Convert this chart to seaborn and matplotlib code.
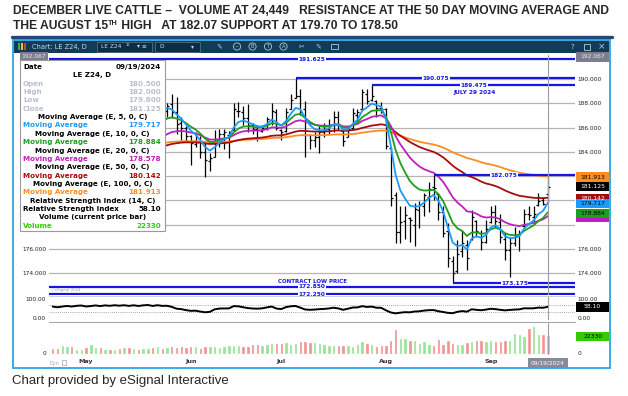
import numpy as np
import pandas as pd
import seaborn as sns
import matplotlib.pyplot as plt
from matplotlib.patches import Rectangle, Circle
from matplotlib.ticker import FormatStrFormatter

# ---- LE Z24 daily bars ----
holidays = ["2024-05-27", "2024-06-19", "2024-07-04", "2024-09-02"]
dates = pd.bdate_range("2024-04-22", "2024-09-19", freq="C", holidays=holidays)

opens = np.array([
    184.9, 184.6, 184.2, 184.9, 185.3, 185.0, 185.6, 185.9, 185.4, 185.8,
    186.3, 186.0, 186.6, 186.4, 186.9, 186.7, 187.1, 186.8, 187.3, 187.0,
    187.5, 187.8, 187.4, 188.0, 187.4, 187.9, 187.3, 186.4, 186.0, 185.3,
    184.6, 184.9, 184.0, 183.2, 183.6, 184.8, 185.5, 185.4, 185.8, 187.4,
    187.3, 186.8, 186.2, 185.9, 185.7, 186.0, 186.6, 187.3, 185.8, 185.7,
    187.5, 188.4, 188.6, 187.5, 185.4, 185.0, 185.2, 185.6, 185.9, 186.2,
    186.9, 185.7, 185.2, 186.0, 187.0, 187.5, 188.8, 188.3, 188.2, 187.6,
    187.5, 184.3, 180.4, 177.4, 178.3, 178.5, 178.0, 179.2, 179.5, 180.3,
    181.1, 180.5, 179.0, 177.5, 175.0, 174.2, 175.8, 176.3, 176.8, 178.3,
    177.3, 176.6, 178.2, 179.0, 178.2, 176.8, 175.9, 176.5, 177.2, 177.9,
    178.9, 178.6, 179.6, 180.0, 180.5])
highs = np.array([
    185.3, 184.8, 185.1, 185.6, 185.5, 185.9, 186.2, 186.0, 186.1, 186.6,
    186.5, 186.8, 186.9, 187.2, 187.1, 187.4, 187.3, 187.6, 187.5, 187.8,
    188.1, 188.0, 188.3, 188.2, 188.0, 188.8, 188.5, 186.9, 186.1, 185.4,
    185.6, 185.3, 184.8, 183.9, 185.8, 185.9, 185.9, 185.7, 188.0, 188.1,
    187.8, 187.9, 186.4, 186.2, 186.2, 186.9, 188.0, 187.5, 185.9, 187.6,
    188.8, 190.075, 189.2, 188.2, 185.5, 185.6, 186.1, 186.4, 186.7, 187.4,
    187.4, 185.8, 186.1, 187.6, 187.5, 189.2, 189.2, 189.475, 188.3, 188.1,
    187.6, 184.4, 180.7, 179.5, 179.5, 178.6, 179.8, 179.9, 180.6, 181.5,
    182.075, 180.6, 179.5, 178.1, 175.4, 176.7, 177.55, 176.7, 179.2, 178.4,
    177.55, 178.4, 179.5, 179.6, 178.9, 177.3, 177.0, 177.8, 177.55, 179.3,
    179.5, 179.5, 180.6, 180.3, 182.0])
lows = np.array([
    184.2, 183.9, 184.0, 184.6, 184.7, 184.9, 185.3, 185.1, 185.2, 185.6,
    185.8, 185.9, 186.1, 186.2, 186.4, 186.5, 186.5, 186.7, 186.8, 186.9,
    187.3, 187.1, 187.3, 187.4, 186.9, 186.8, 185.5, 185.0, 184.8, 182.9,
    184.4, 183.5, 181.9, 182.4, 183.6, 184.4, 184.2, 183.5, 185.8, 186.9,
    186.2, 185.6, 185.5, 184.9, 185.6, 185.8, 186.2, 185.8, 185.0, 185.6,
    187.5, 188.4, 187.0, 183.6, 184.2, 184.4, 183.9, 185.2, 185.5, 185.6,
    185.8, 184.5, 185.2, 185.9, 186.4, 187.5, 187.9, 188.2, 186.9, 187.2,
    184.2, 179.5, 176.5, 176.5, 176.8, 176.6, 176.2, 177.7, 178.7, 179.0,
    180.0, 178.4, 177.0, 174.5, 173.175, 174.0, 175.35, 174.25, 176.7, 177.0,
    175.9, 176.45, 178.1, 177.8, 176.45, 175.1, 173.7, 176.2, 175.8, 177.8,
    178.4, 178.1, 179.5, 179.6, 179.8])
closes = np.array([
    184.6, 184.2, 184.8, 185.3, 185.0, 185.6, 185.9, 185.4, 185.8, 186.3,
    186.0, 186.6, 186.4, 186.9, 186.7, 187.1, 186.8, 187.3, 187.0, 187.5,
    187.8, 187.4, 188.0, 187.7, 187.8, 187.3, 186.3, 186.0, 185.3, 184.7,
    184.8, 184.0, 183.3, 183.5, 184.9, 185.5, 185.6, 185.6, 187.5, 187.4,
    186.8, 186.2, 185.9, 185.8, 186.0, 186.7, 187.4, 186.0, 185.6, 187.3,
    188.3, 188.6, 187.3, 185.4, 185.0, 185.2, 185.6, 185.8, 186.2, 186.9,
    186.3, 184.9, 185.9, 187.2, 187.3, 188.9, 188.2, 188.6, 187.6, 187.5,
    184.5, 180.2, 177.4, 178.2, 178.8, 178.4, 179.3, 179.6, 180.4, 180.9,
    181.0, 179.0, 177.3, 175.2, 174.0, 175.6, 176.5, 175.2, 178.6, 177.5,
    176.6, 177.6, 179.0, 178.3, 177.0, 175.9, 176.5, 177.0, 177.3, 178.9,
    178.8, 178.9, 179.9, 179.7, 181.125])
volume = np.array([
    5150, 5840, 9270, 7900, 7900, 4470, 4120, 6870, 10300, 6180,
    6870, 4120, 4120, 4120, 4810, 6870, 6180, 5840, 4470, 5500,
    5500, 6180, 7560, 5840, 6180, 7560, 6870, 8240, 6870, 7560,
    7560, 5500, 7560, 8240, 8240, 6180, 7560, 8930, 9620, 8930,
    7560, 8240, 10300, 10300, 9620, 10300, 12000, 12000, 12000, 13700,
    11000, 12000, 15100, 15100, 13100, 13700, 12400, 10300, 9620, 9620,
    9620, 8930, 8930, 8240, 10300, 14400, 12000, 10300, 8240, 9620,
    9620, 16500, 30200, 18900, 17900, 16000, 15800, 12000, 15100, 10300,
    8600, 17200, 10300, 16100, 12000, 11000, 10300, 13100, 15100, 15800,
    15800, 15100, 15800, 14400, 14400, 15800, 15800, 24700, 24000, 20600,
    31900, 34400, 24000, 24449, 22330])

ma_spans = [5, 10, 20, 50, 100]
ma_seed_day = "2024-05-23"                      # lines come out from under the data box here
ma_seed = [187.5, 186.5, 185.2, 184.4, 184.7]
ma_last = [179.717, 178.884, 178.578, 180.142, 181.913]
rsi_last = 58.10

levels = [191.625, 190.075, 189.475, 182.075, 173.175, 172.850, 172.250]
level_from = ["", "high", "high", "high", "low", "", ""]

title1 = "DECEMBER LIVE CATTLE \u2013  VOLUME AT 24,449   RESISTANCE AT THE 50 DAY MOVING AVERAGE AND"
title2 = ["THE AUGUST 15", "TH", " HIGH   AT 182.07 SUPPORT AT 179.70 TO 178.50"]


def ema(values, span, seed, start):
    a = 2.0 / (span + 1)
    out = np.full(len(values), np.nan)
    out[start] = seed
    for t in range(start + 1, len(values)):
        out[t] = out[t - 1] + a * (values[t] - out[t - 1])
    return out


def wilder_rsi(c, n=14, gain0=0.30, loss0=0.20):
    d = np.diff(c, prepend=c[0])
    g, l = gain0, loss0
    out = []
    for x in d:
        g = (g * (n - 1) + max(x, 0)) / n
        l = (l * (n - 1) + max(-x, 0)) / n
        out.append(100 - 100 / (1 + g / l))
    return np.array(out)


# ---- figure layout in pixels ----
W, H = 628, 396
sns.set_theme(style="white")
plt.rcParams["font.family"] = ["DejaVu Sans"]
fig = plt.figure(figsize=(W / 100, H / 100), dpi=100)


def add_px_axes(l, t, r, b):
    return fig.add_axes([l / W, 1 - b / H, (r - l) / W, (b - t) / H])


PL, PR = 49, 575
PT, PB = 55, 295
BOX_BOTTOM = 231
ax = add_px_axes(PL, PT, PR, PB)
ax_rsi = add_px_axes(PL, 297, PR, 320)
ax_vol = add_px_axes(PL, 323, PR, 355)
x_lo, x_hi = -0.78, 109.7
p_lo, p_hi = 172.19, 191.98
r_lo, r_hi = -10, 110
v_lo, v_hi = -2650, 39700

idx = np.arange(len(dates))
start = int(np.where(dates == pd.Timestamp(ma_seed_day))[0][0])
txt = "#222222"

for a in (ax, ax_rsi, ax_vol):
    a.set_xlim(x_lo, x_hi)
    a.set_xticks([])
    for s in a.spines.values():
        s.set_visible(False)
    a.tick_params(axis="y", length=0, labelsize=4.2, labelcolor=txt, pad=2,
                  labelleft=True, labelright=True)
    a.axvline(idx[-1], color="#9c9cab", lw=0.8, zorder=6)


def py_price(p):
    return PT + (p_hi - p) / (p_hi - p_lo) * (PB - PT)


# price panel
ax.set_ylim(p_lo, p_hi)
ax.set_yticks(np.arange(174, 191, 2))
ax.yaxis.set_major_formatter(FormatStrFormatter("%.3f"))
ax.grid(axis="y", color="#b5b5b5", lw=0.9)
ax.set_axisbelow(True)
covered_right = {178, 180, 182}                 # sit under the coloured value tags
for tick, val in zip(ax.yaxis.get_major_ticks(), ax.get_yticks()):
    tick.label1.set_visible(py_price(val) > BOX_BOTTOM)
    tick.label2.set_visible(int(round(val)) not in covered_right)

ax.vlines(idx, lows, highs, color="black", lw=0.9, zorder=3)
ax.hlines(opens, idx - 0.42, idx, color="black", lw=0.9, zorder=3)
ax.hlines(closes, idx, idx + 0.42, color="black", lw=0.9, zorder=3)

ma_colors = ["#1a9bff", "#1e9e1e", "#c01ec0", "#a50d0d", "#ff8c1f"]
for span, seed, col in reversed(list(zip(ma_spans, ma_seed, ma_colors))):
    line = ema(closes, span, seed, start)
    sns.lineplot(x=idx[start:], y=line[start:], ax=ax, color=col, lw=1.3,
                 zorder=4, legend=False)

blue = "#1515e8"
label_x = [54.5, 80.5, 88.5, 94.8, 97.0, 54.5, 54.5]
for lv, src, lx in zip(levels, level_from, label_x):
    if src == "high":
        x0 = idx[np.argmin(np.abs(highs - lv))]
    elif src == "low":
        x0 = idx[np.argmin(np.abs(lows - lv))]
    else:
        x0 = x_lo
    ax.hlines(lv, x0, x_hi, color=blue, lw=1.6, zorder=5)
    ax.text(lx, lv, f"{lv:.3f}", color=blue, fontsize=4.2, fontweight="bold",
            ha="center", va="center", zorder=6,
            bbox=dict(fc="white", ec="none", pad=0.3))
ax.text(88.5, 188.85, "JULY 29 2024", color=blue, fontsize=4.2,
        fontweight="bold", ha="center", va="center", zorder=6)
ax.text(54.5, 173.3, "CONTRACT LOW PRICE", color=blue, fontsize=4.0,
        fontweight="bold", ha="center", va="center", zorder=6)

# RSI panel
rsi = wilder_rsi(closes)
ax_rsi.set_ylim(r_lo, r_hi)
ax_rsi.set_yticks([0, 100])
ax_rsi.yaxis.set_major_formatter(FormatStrFormatter("%.2f"))
ax_rsi.hlines([70, 30], x_lo, x_hi, colors="#8a8a8a", lw=0.6,
              linestyles=(0, (1, 1.5)))
sns.lineplot(x=idx, y=rsi, ax=ax_rsi, color="black", lw=1.4, legend=False)

# volume panel
vol_colors = np.where(closes >= opens, "#98e498", "#f39494")
ax_vol.bar(idx, volume, width=0.3, color=vol_colors, edgecolor=vol_colors,
           linewidth=0.5)
ax_vol.set_ylim(v_lo, v_hi)
ax_vol.set_yticks([0])
ax_vol.set_yticklabels(["0"])
months = pd.Series(idx, index=dates).groupby(dates.to_period("M")).first()[1:]
ax_vol.set_xticks(months.values, [p.strftime("%b") for p in months.index])
ax_vol.tick_params(axis="x", length=0, pad=3.2, labelsize=4.6, labelcolor="#333333")
for lab in ax_vol.get_xticklabels():
    lab.set_fontweight("bold")

# ---- overlay canvas in pixel units ----
cv = fig.add_axes([0, 0, 1, 1])
cv.set_xlim(0, W)
cv.set_ylim(H, 0)
cv.axis("off")


def py_rsi(v):
    return 297 + (r_hi - v) / (r_hi - r_lo) * 23


def py_vol(v):
    return 323 + (v_hi - v) / (v_hi - v_lo) * 32


def px_idx(i):
    return PL + (i - x_lo) / (x_hi - x_lo) * (PR - PL)


def tag(y, text, bg, fg, x=576, w=33):
    cv.add_patch(Rectangle((x, y - 4.6), w, 9.2, fc=bg, ec="none", zorder=5))
    if text:
        cv.text(x + w / 2, y, text, color=fg, fontsize=4.3, ha="center",
                va="center", zorder=6)


# window frame and header
cv.add_patch(Rectangle((13, 40), 597, 13, fc="#103c58", ec="none"))
cv.add_patch(Rectangle((13, 40), 597, 328, fc="none", ec="#3aaae4", lw=1.4))
for k, c in enumerate(["#3cb043", "#e8c41c", "#d9402c"]):
    cv.add_patch(Rectangle((18 + k * 2.8, 43), 2.2, 7, fc=c, ec="none"))
cv.text(32, 46.5, "Chart: LE Z24, D", color="#cfd8e0", fontsize=4.8, va="center")
cv.add_patch(Rectangle((97, 42), 55, 9.5, fc="#0b2e44", ec="#56788e", lw=0.5))
cv.text(101, 46.7, "LE Z24", color="#cfd8e0", fontsize=4.2, va="center")
cv.text(126, 44.5, "12", color="#cfd8e0", fontsize=2.6, va="center")
cv.text(137, 46.7, "\u25be \u2261", color="#cfd8e0", fontsize=4.2, va="center")
cv.add_patch(Rectangle((155, 42), 45, 9.5, fc="#0b2e44", ec="#56788e", lw=0.5))
cv.text(159, 46.7, "D", color="#cfd8e0", fontsize=4.2, va="center")
cv.text(191, 46.7, "\u25be", color="#cfd8e0", fontsize=4.2, va="center")
for k, ch in enumerate(["~", "B", "T", "A"]):
    cx = 237 + k * 15.5
    cv.add_patch(Circle((cx, 46.5), 3.6, fc="none", ec="#b9c6d0", lw=0.6))
    cv.text(cx, 46.7, ch, color="#b9c6d0", fontsize=3.6, ha="center", va="center")
cv.text(219, 46.7, "\u270e", color="#b9c6d0", fontsize=5, ha="center", va="center")
cv.text(302, 46.7, "\u2702", color="#b9c6d0", fontsize=5, ha="center", va="center")
cv.text(318, 46.7, "\u270e", color="#b9c6d0", fontsize=5, ha="center", va="center")
cv.add_patch(Rectangle((331, 43.5), 7, 5.5, fc="none", ec="#b9c6d0", lw=0.6))
cv.text(572, 46.7, "?", color="#b9c6d0", fontsize=5, ha="center", va="center")
cv.add_patch(Rectangle((584, 43.5), 6, 6, fc="none", ec="#b9c6d0", lw=0.6))
cv.text(602, 46.7, "\u00d7", color="#b9c6d0", fontsize=6.5, ha="center", va="center")

# value tags on the right (later ones cover earlier ones, as on the chart)
tag(57, "192.067", "#7b7e8e", "#e8e8f0")
tag(57, "192.067", "#7b7e8e", "#e8e8f0", x=20, w=28)
tag(py_price(ma_last[4]), f"{ma_last[4]:.3f}", "#ff8c1f", "black")
tag(py_price(closes[-1]), f"{closes[-1]:.3f}", "black", "white")
tag(py_price(ma_last[3]), f"{ma_last[3]:.3f}", "#a50d0d", "white")
tag(py_price(ma_last[0]), f"{ma_last[0]:.3f}", "#1a9bff", "black")
tag(py_price(ma_last[2]), "", "#c01ec0", "white")
tag(py_price(ma_last[1]), f"{ma_last[1]:.3f}", "#1e9e1e", "black")
tag(py_rsi(rsi_last), f"{rsi_last:.2f}", "black", "white")
tag(py_vol(volume[-1]), f"{volume[-1]}", "#33cc00", "black")

# date tag and bottom bits
xd = px_idx(idx[-1])
cv.add_patch(Rectangle((xd - 20, 358), 40, 10, fc="#868a9a", ec="none", zorder=5))
cv.text(xd, 363, dates[-1].strftime("%m/%d/%Y"), color="white", fontsize=4.2,
        ha="center", va="center", zorder=6)
cv.text(50, 363, "Dyn", color="#9aa4b0", fontsize=3.5, va="center")
cv.add_patch(Rectangle((62, 360), 4, 5, fc="none", ec="#9aa4b0", lw=0.5))
cv.text(51, 290, "\u00a9eSignal 2024", color="#9a9a9a", fontsize=2.8, va="center")
cv.plot([PL, PR], [321.5, 321.5], color="#a8a8a8", lw=0.8)
cv.plot([PL, PR], [295.8, 295.8], color="#c8c8c8", lw=0.6)

# data box
cv.add_patch(Rectangle((20, 60), 145, BOX_BOTTOM - 60, fc="white", ec="#9a9a9a",
                       lw=0.8, zorder=10))
grey = "#b8bfcc"
rows = [("Date", dates[-1].strftime("%m/%d/%Y"), "black", "split"),
        ("LE Z24, D", "", "black", "center"),
        ("Open", f"{opens[-1]:.3f}", grey, "split"),
        ("High", f"{highs[-1]:.3f}", grey, "split"),
        ("Low", f"{lows[-1]:.3f}", grey, "split"),
        ("Close", f"{closes[-1]:.3f}", grey, "split")]
for span, val, col in zip(ma_spans, ma_last, ma_colors):
    rows.append((f"Moving Average (E, {span}, 0, C)", "", "black", "center"))
    rows.append(("Moving Average", f"{val:.3f}", col, "split"))
rows += [("Relative Strength Index (14, C)", "", "black", "center"),
         ("Relative Strength Index", f"{rsi_last:.2f}", "black", "split"),
         ("Volume (current price bar)", "", "black", "center"),
         ("Volume", f"{volume[-1]}", "#33cc00", "split")]
for k, (left, right, col, mode) in enumerate(rows):
    y = 67 + k * 8.35
    if mode == "center":
        cv.text(92.5, y, left, color=col, fontsize=5.1, fontweight="bold",
                ha="center", va="center", zorder=11)
    else:
        cv.text(23, y, left, color=col, fontsize=5.1, fontweight="bold",
                va="center", zorder=11)
        cv.text(161, y, right, color=col, fontsize=5.1, fontweight="bold",
                ha="right", va="center", zorder=11)

# title and footer, sized to their measured widths
title_font = ["Liberation Sans Narrow", "Liberation Sans", "DejaVu Sans"]
renderer = fig.canvas.get_renderer()


def width_of(t):
    return t.get_window_extent(renderer=renderer).width


t1 = cv.text(13, 11, title1, fontsize=10, fontweight="bold", family=title_font,
             va="center")
fs = 10 * 598 / width_of(t1)
t1.set_fontsize(fs)
xpos = 13
for k, part in enumerate(title2):
    if k == 1:
        t = cv.text(xpos, 23.2, part, fontsize=fs * 0.6, fontweight="bold",
                    family=title_font, va="center")
    else:
        t = cv.text(xpos, 26, part, fontsize=fs, fontweight="bold",
                    family=title_font, va="center")
    xpos += width_of(t)
cv.plot([12, 612], [36.5, 36.5], color="#23477f", lw=2.4)

foot = cv.text(12, 381, "Chart provided by eSignal Interactive", fontsize=8,
               family=["Liberation Sans", "DejaVu Sans"], va="center")
foot.set_fontsize(8 * 219 / width_of(foot))

fig.savefig("out.png", dpi=100)
